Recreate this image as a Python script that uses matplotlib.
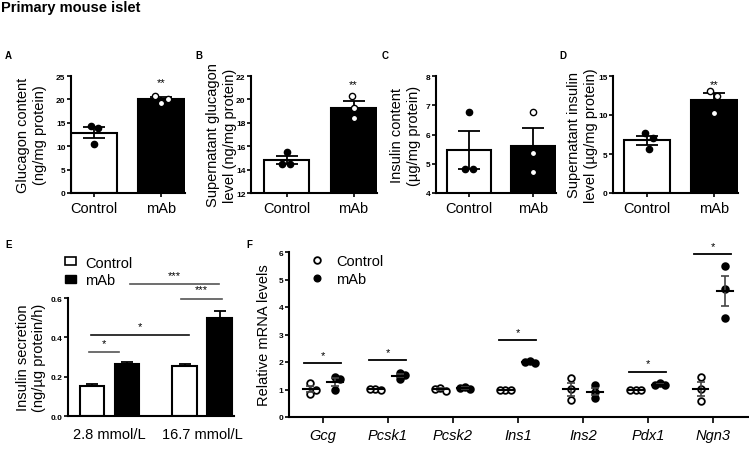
import numpy as np
import matplotlib
matplotlib.use('Agg')
import matplotlib.pyplot as plt
from matplotlib.patches import Patch
from matplotlib.lines import Line2D

plt.rcParams['font.family'] = ['Liberation Sans', 'DejaVu Sans']

W, H = 749, 452

# ---- data ----
groups = ['Control', 'mAb']

glucagon_ctrl = [14.25, 13.9, 10.5]
glucagon_mab = [20.8, 19.2, 20.1]

sup_glucagon_ctrl = [15.48, 14.48, 14.48]
sup_glucagon_mab = [20.3, 19.24, 18.38]

insulin_ctrl = [6.78, 4.82, 4.82]
insulin_mab = [6.76, 5.36, 4.73]

sup_insulin_ctrl = [7.65, 7.01, 5.64]
sup_insulin_mab = [13.12, 12.4, 10.26]

glucose = ['2.8 mmol/L', '16.7 mmol/L']
secretion_ctrl = [0.155, 0.252]
secretion_ctrl_sem = [0.010, 0.011]
secretion_mab = [0.262, 0.500]
secretion_mab_sem = [0.012, 0.035]

genes = ['Gcg', 'Pcsk1', 'Pcsk2', 'Ins1', 'Ins2', 'Pdx1', 'Ngn3']
mrna_ctrl = [[1.22, 0.83, 0.99], [1.01, 1.0, 1.01], [1.07, 0.93, 1.02],
             [1.0, 1.0, 0.99], [1.43, 1.01, 0.61], [1.0, 1.0, 1.0],
             [1.45, 1.01, 0.57]]
mrna_mab = [[1.45, 1.40, 0.97], [1.6, 1.52, 1.4], [1.1, 1.03, 1.04],
            [2.03, 1.98, 2.0], [1.16, 0.91, 0.69], [1.22, 1.17, 1.15],
            [5.49, 4.65, 3.59]]
mrna_sig = {'Gcg': 1.95, 'Pcsk1': 2.07, 'Ins1': 2.79, 'Pdx1': 1.65, 'Ngn3': 5.91}

fig = plt.figure(figsize=(W / 100, H / 100), dpi=100)


def add_ax(l, t, r, b):
    return fig.add_axes([l / W, 1 - b / H, (r - l) / W, (b - t) / H])


def style(ax):
    for s in ['top', 'right']:
        ax.spines[s].set_visible(False)
    for s in ['left', 'bottom']:
        ax.spines[s].set_linewidth(1.5)
    ax.tick_params(axis='y', width=1.2, length=3, pad=1)
    for lab in ax.get_yticklabels():
        lab.set_fontsize(6)
        lab.set_fontweight('bold')


def sem(v):
    return np.std(v, ddof=1) / np.sqrt(len(v))


def bar_panel(ax, ctrl, mab, jit_c, jit_m, ylim, yticks, ylabel, xlo, labx, star_y=None):
    means = [np.mean(ctrl), np.mean(mab)]
    errs = [sem(ctrl), sem(mab)]
    ax.bar([0, 1], means, width=0.68, color=['white', 'black'],
           edgecolor='black', linewidth=1.5, zorder=2)
    ax.errorbar([0, 1], means, yerr=errs, fmt='none', ecolor='black',
                elinewidth=1.3, capsize=8, capthick=1.3, zorder=3)
    ax.plot(np.array(jit_c), ctrl, 'o', ms=4.5, mfc='black', mec='black', zorder=4)
    ax.plot(1 + np.array(jit_m), mab, 'o', ms=4.5, mfc='white', mec='black',
            mew=1.0, zorder=4)
    ax.set_xlim(xlo, 1.35)
    ax.set_ylim(*ylim)
    ax.set_yticks(yticks)
    ax.set_xticks([0, 1])
    ax.set_xticklabels(groups, fontsize=10.5)
    ax.tick_params(axis='x', width=1.2, length=3, pad=3)
    ax.set_ylabel(ylabel, fontsize=10.5, linespacing=1.25)
    ax.yaxis.set_label_coords(labx, 0.5)
    style(ax)
    if star_y is not None:
        ax.text(1, star_y, '**', ha='center', va='center', fontsize=8)


axA = add_ax(71, 77, 185, 194)
bar_panel(axA, glucagon_ctrl, glucagon_mab, [-0.05, 0.06, 0.0], [-0.1, 0.0, 0.1],
          (0, 25), [0, 5, 10, 15, 20, 25], 'Glucagon content\n(ng/mg protein)',
          -0.34, -0.21, 23.6)

axB = add_ax(251, 77, 377, 194)
bar_panel(axB, sup_glucagon_ctrl, sup_glucagon_mab, [0.0, -0.07, 0.05], [-0.02, 0.0, 0.0],
          (12, 22), [12, 14, 16, 18, 20, 22],
          'Supernatant glucagon\nlevel (ng/mg protein)', -0.53, -0.11, 21.3)

axC = add_ax(436, 77, 556, 194)
bar_panel(axC, insulin_ctrl, insulin_mab, [0.0, -0.06, 0.07], [0.0, 0.0, 0.0],
          (4, 8), [4, 5, 6, 7, 8], 'Insulin content\n(\u00b5g/mg protein)',
          -0.51, -0.125)

axD = add_ax(613, 77, 738, 194)
bar_panel(axD, sup_insulin_ctrl, sup_insulin_mab, [-0.02, 0.09, 0.04], [-0.07, 0.04, 0.0],
          (0, 15), [0, 5, 10, 15], 'Supernatant insulin\nlevel (\u00b5g/mg protein)',
          -0.5, -0.12, 14.0)

# ---- panel E ----
axE = add_ax(68, 299, 234, 417)
xc = np.array([0, 2.65])
axE.bar(xc, secretion_ctrl, width=0.7, color='white', edgecolor='black',
        linewidth=1.5, zorder=2)
axE.bar(xc + 1, secretion_mab, width=0.7, color='black', edgecolor='black',
        linewidth=1.5, zorder=2)
axE.errorbar(xc, secretion_ctrl, yerr=[[0, 0], secretion_ctrl_sem], fmt='none',
             ecolor='black', elinewidth=1.3, capsize=4, capthick=1.3, zorder=3)
axE.errorbar(xc + 1, secretion_mab, yerr=[[0, 0], secretion_mab_sem], fmt='none',
             ecolor='black', elinewidth=1.3, capsize=4, capthick=1.3, zorder=3)
axE.set_xlim(-0.69, 4.06)
axE.set_ylim(0, 0.6)
axE.set_yticks([0.0, 0.2, 0.4, 0.6])
axE.set_yticklabels(['0.0', '0.2', '0.4', '0.6'])
axE.set_xticks(xc + 0.5)
axE.set_xticklabels(glucose, fontsize=10.5)
axE.tick_params(axis='x', length=0, pad=8)
axE.set_ylabel('Insulin secretion\n(ng/\u00b5g protein/h)', fontsize=10.5, linespacing=1.25)
axE.yaxis.set_label_coords(-0.13, 0.5)
style(axE)
sig_E = [(-0.08, 0.78, 0.325, '*', '#555555'),
         (-0.04, 2.78, 0.41, '*', '#111111'),
         (2.54, 3.71, 0.596, '***', '#555555'),
         (1.09, 3.63, 0.671, '***', '#555555')]
for x0, x1, yv, s, c in sig_E:
    axE.plot([x0, x1], [yv, yv], color=c, lw=1.2, clip_on=False)
    axE.text((x0 + x1) / 2, yv + 0.022, s, ha='center', va='bottom', fontsize=8,
             clip_on=False)
axE.legend([Patch(facecolor='white', edgecolor='black', linewidth=1.2),
            Patch(facecolor='black', edgecolor='black')], groups,
           loc='upper left', bbox_to_anchor=(-0.02, 1.36), frameon=False,
           fontsize=10.5, handlelength=0.8, handleheight=0.5, handletextpad=0.6,
           labelspacing=0.25, borderaxespad=0, borderpad=0)

# ---- panel F ----
axF = add_ax(289, 253, 748, 418)
xpx, ypx, dmk = 65.0, 27.4, 6.5


def swarm(vals):
    # simple beeswarm: shift a point sideways only when it would overlap
    placed = []
    offs = []
    for v in vals:
        for k in [0, 2, -2, 3, -3, 4, -4]:
            dx = k * 0.4 * dmk
            if all(np.hypot(dx - px, (v - pv) * ypx) >= dmk * 0.7 for px, pv in placed):
                break
        placed.append((dx, v))
        offs.append(dx / xpx)
    return np.array(offs)


for i, g in enumerate(genes):
    for vals, off, face in [(mrna_ctrl[i], -0.19, 'white'), (mrna_mab[i], 0.19, 'black')]:
        x = i + off
        m, e = np.mean(vals), sem(vals)
        axF.plot(x + swarm(vals), vals, 'o', ms=4.8, mfc=face, mec='black', mew=1.3,
                 zorder=3)
        axF.errorbar([x], [m], yerr=[e], fmt='none', ecolor='#444444', elinewidth=1.2,
                     capsize=3, capthick=1.2, zorder=4)
        axF.plot([x - 0.12, x + 0.12], [m, m], color='black', lw=1.5, zorder=4)
    if g in mrna_sig:
        yv = mrna_sig[g]
        axF.plot([i - 0.29, i + 0.28], [yv, yv], color='black', lw=1.3, clip_on=False)
        axF.text(i, yv + 0.12, '*', ha='center', va='bottom', fontsize=8)

axF.set_xlim(-0.52, 6.54)
axF.set_ylim(0, 6)
axF.set_yticks(range(7))
axF.set_xticks(range(len(genes)))
axF.set_xticklabels(genes, fontsize=10.5, style='italic')
axF.tick_params(axis='x', width=1.2, length=4, pad=4)
axF.set_ylabel('Relative mRNA levels', fontsize=10.5)
axF.yaxis.set_label_coords(-0.04, 0.5)
style(axF)
axF.legend([Line2D([], [], ls='none', marker='o', ms=4.8, mfc='white', mec='black', mew=1.3),
            Line2D([], [], ls='none', marker='o', ms=4.8, mfc='black', mec='black')],
           groups, loc='upper left', bbox_to_anchor=(0.045, 0.985), frameon=False,
           fontsize=10.5, handlelength=1.0, handletextpad=0.8, labelspacing=0.25,
           borderaxespad=0, borderpad=0)

# ---- titles / panel letters ----
fig.text(1 / W, 1 - 8 / H, 'Primary mouse islet', fontsize=10.5, fontweight='bold',
         va='center', ha='left')
for lab, x, y in [('A', 5, 56), ('B', 195, 56), ('C', 382, 56), ('D', 559, 56),
                  ('E', 5, 245), ('F', 246, 245)]:
    fig.text(x / W, 1 - y / H, lab, fontsize=7, fontweight='bold', va='center', ha='left')

fig.savefig('out.png', dpi=100)
